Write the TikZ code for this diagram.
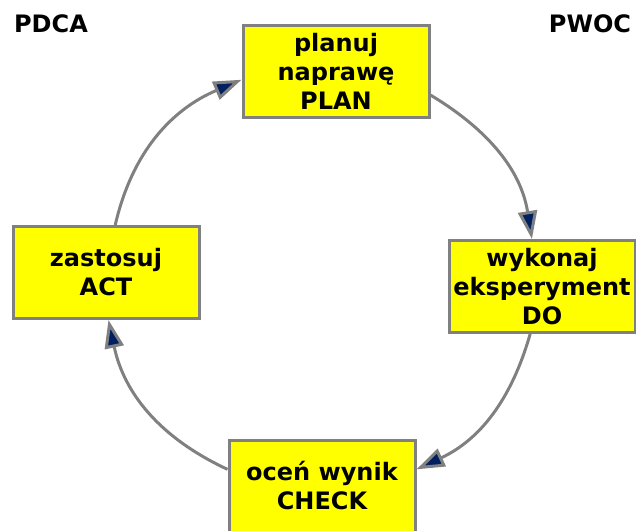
\documentclass[tikz,border=0pt]{standalone}
\usepackage{fontspec}
\setmainfont{DejaVu Sans}
\usepackage{xcolor}
\usetikzlibrary{arrows.meta}
\definecolor{cRahmen}{RGB}{128,128,128}
\definecolor{cGelb}{RGB}{255,255,0}
\definecolor{cSpitze}{RGB}{0,32,96}

\begin{document}
\begin{tikzpicture}[x=1pt,y=-1pt,font=\fontsize{24}{29}\selectfont\bfseries,
  kasten/.style={draw=cRahmen,line width=3pt,fill=cGelb,minimum width=186pt,minimum height=92pt,align=center,inner sep=0pt},
  pfeil/.style={draw=cRahmen,line width=3pt,-{Triangle[length=28pt,width=19pt,fill=cSpitze,line width=3pt]}}]
\useasboundingbox (0,0) rectangle (636,530);
\node[kasten] (plan) at (336,71.5){planuj\\naprawę\\PLAN};
\node[kasten] (do) at (542,286.5){wykonaj\\eksperyment\\DO};
\node[kasten] (check) at (322,486){oceń wynik\\CHECK};
\node[kasten] (act) at (106,272.5){zastosuj\\ACT};
\node (pdca) at (51,24){PDCA};
\node (pwoc) at (590,24){PWOC};
\draw[pfeil] (act.79) to[out=77,in=-157] (plan.185);
\draw[pfeil] (plan.-14) to[out=-31,in=99] (do.102);
\draw[pfeil] (do.-104) to[out=-106,in=25] (check.10);
\draw[pfeil] (check.170) to[out=155,in=-78] (act.-87);
\end{tikzpicture}
\end{document}
